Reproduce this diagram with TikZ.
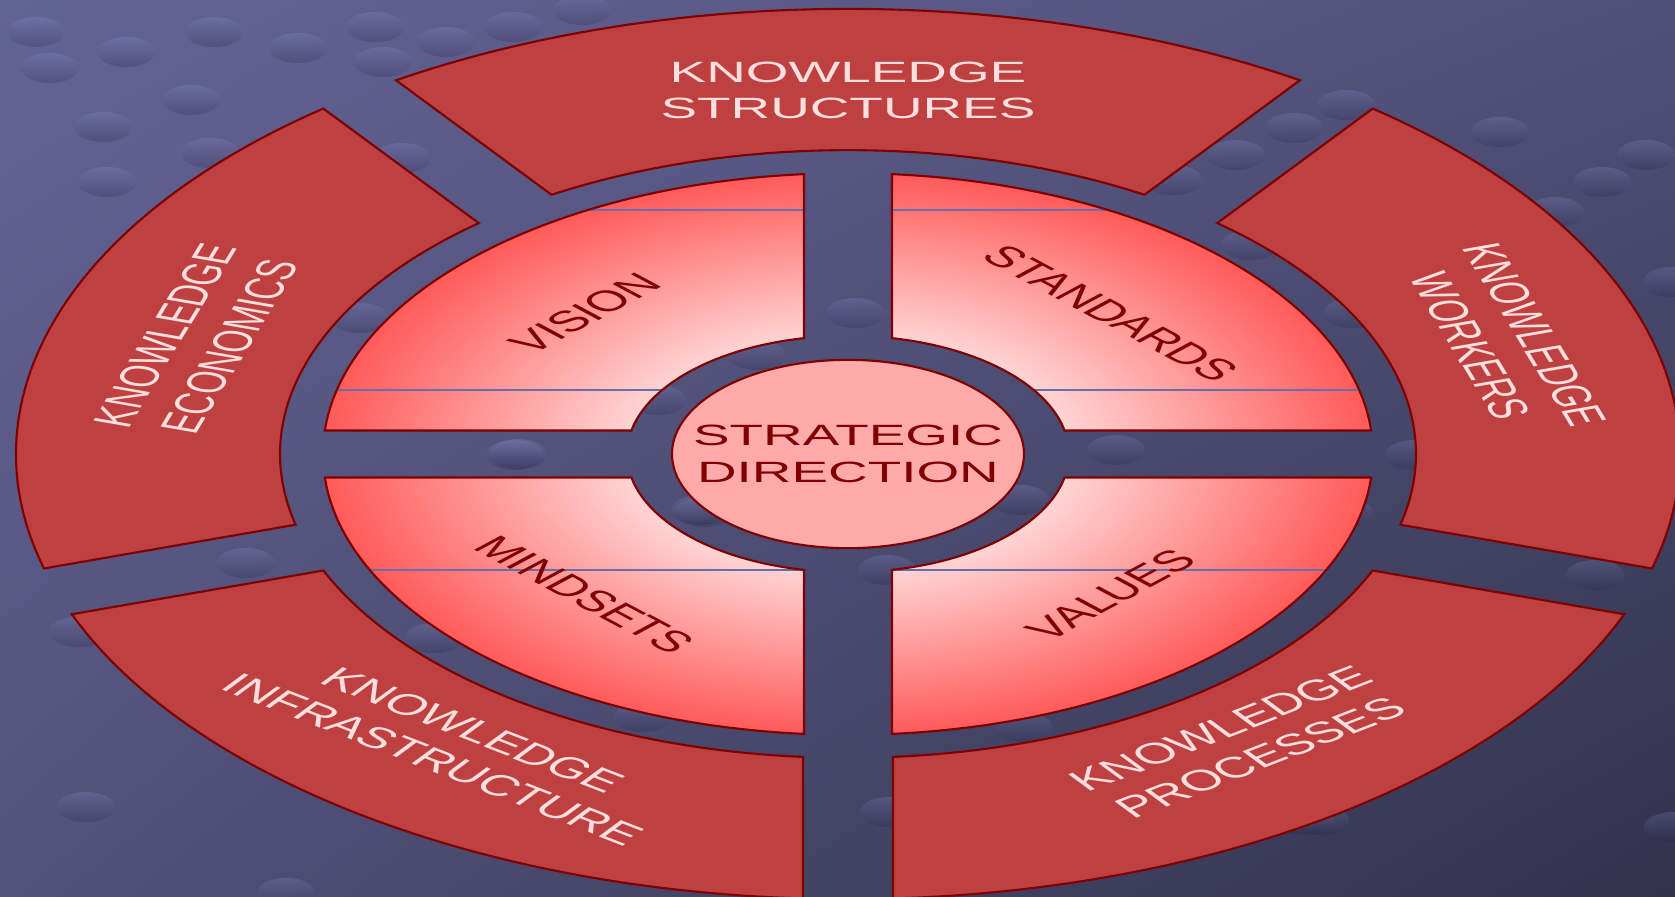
\documentclass[tikz,border=0pt]{standalone}
\usepackage{fontspec}
\setmainfont{Liberation Sans}
\usetikzlibrary{shadings}

\definecolor{bgtl}{RGB}{99,100,150}
\definecolor{bgtr}{RGB}{80,80,120}
\definecolor{bgbl}{RGB}{82,82,122}
\definecolor{bgbr}{RGB}{50,50,77}
\definecolor{ringred}{RGB}{191,64,64}
\definecolor{edgered}{RGB}{128,0,0}
\definecolor{quadlight}{RGB}{255,212,212}
\definecolor{quadred}{RGB}{255,90,90}
\definecolor{hubpink}{RGB}{255,170,170}
\definecolor{labelpink}{RGB}{255,222,222}
\definecolor{stripe}{RGB}{105,110,170}
\definecolor{studtop}{RGB}{150,152,215}
\definecolor{studbottom}{RGB}{30,30,60}

% light near the hub, red at the outer rim (the path's bbox maps to 50bp)
\pgfdeclareradialshading{quadfill}{\pgfpoint{0bp}{0bp}}{color(0bp)=(quadlight); color(10.5bp)=(quadlight); color(25bp)=(quadred); color(50bp)=(quadred)}

% one quadrant of the inner disc, #1 = its middle angle
\newcommand{\quadshape}[1]{({#1-33.52}:221) arc[start angle=#1-33.52, end angle=#1+33.52, radius=221] -- ({#1+40.19}:525) arc[start angle=#1+40.19, end angle=#1-40.19, radius=525] -- cycle}

\tikzset{
  ringseg/.style={fill=ringred, draw=edgered, line width=0.6pt},
  quadedge/.style={draw=edgered, line width=0.6pt},
  outerlabel/.style={text=labelpink, align=center, transform shape, font=\fontsize{15.6pt}{19.3pt}\selectfont},
  innerlabel/.style={text=edgered, align=center, transform shape, font=\fontsize{15.6pt}{19.3pt}\selectfont}
}

\begin{document}
\begin{tikzpicture}[x=0.01cm,y=0.01cm]
    \useasboundingbox (-848,-442) rectangle (827,454);
    \shade[upper left=bgtl, upper right=bgtr, lower left=bgbl, lower right=bgbr] (-848,-442) rectangle (827,454);
    % studs on the floor
    \foreach \px/\py in {36/32,126/52,50/68,214/32,375/27,446/42,513/27,582/10,298/48,383/62,103/127,107/182,191/100,402/158,210/153,360/318,518/454,246/563,78/632,86/807,286/893,434/638,643/717,704/512,515/455,855/313,757/355,657/400,700/510,1020/500,887/570,1116/450,1346/105,1294/128,1236/155,1500/132,1646/155,1602/182,1555/212,1672/282,1173/180,1250/245,1353/313,1023/727,1595/575,889/812,1305/820,1414/455,1344/513,1673/827,1320/820}
        \shade[top color=studtop, bottom color=studbottom, opacity=0.22] ({\px-848},{454-\py}) ellipse[x radius=29, y radius=15];

    \begin{scope}[yscale=0.535]
        % outer ring
        \foreach \c in {18,90,162,234,306}
            \draw[ringseg] ({\c-31.456}:568) arc[start angle=\c-31.456, end angle=\c+31.456, radius=568] -- ({\c+32.9}:832) arc[start angle=\c+32.9, end angle=\c-32.9, radius=832] -- cycle;
        % inner quadrants
        \foreach \q in {45,135,225,315} {
            \begin{scope}
                \clip \quadshape{\q};
                \shade[shading=quadfill] (0,0) circle[radius=525];
                \draw[stripe, line width=0.4pt] (-600,456.1) -- (600,456.1) (-600,119.6) -- (600,119.6) (-600,-216.8) -- (600,-216.8);
            \end{scope}
            \draw[quadedge] \quadshape{\q};
        }
        \draw[quadedge, fill=hubpink] (0,0) circle[radius=176];
        \node[innerlabel] (hub) at (0,0) {STRATEGIC\\DIRECTION};

        \foreach \q/\rot/\name/\txt in {45/-45/standards/STANDARDS, 135/45/vision/VISION, 225/-45/mindsets/MINDSETS, 315/45/values/VALUES}
            \node[innerlabel, rotate=\rot] (\name) at (\q:372) {\txt};

        \foreach \c/\r/\rot/\name/\txt in {90/680/0/structures/{KNOWLEDGE\\STRUCTURES}, 162/684/72/economics/{KNOWLEDGE\\ECONOMICS}, 18/688/-72/workers/{KNOWLEDGE\\WORKERS}, 234/672/-36/infrastructure/{KNOWLEDGE\\INFRASTRUCTURE}, 306/668/36/processes/{KNOWLEDGE\\PROCESSES}}
            \node[outerlabel, rotate=\rot] (\name) at (\c:\r) {\txt};
    \end{scope}
\end{tikzpicture}
\end{document}
